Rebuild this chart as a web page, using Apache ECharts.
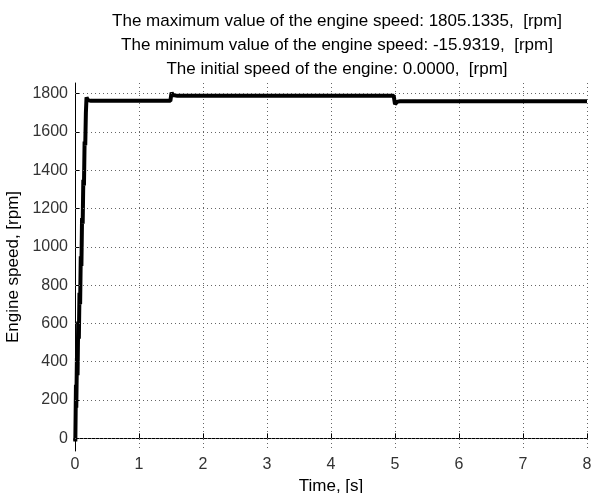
<!DOCTYPE html>
<html>
<head>
<meta charset="utf-8">
<script src="https://cdn.jsdelivr.net/npm/echarts@6/dist/echarts.min.js"></script>
<style>
html,body{margin:0;padding:0;background:#fff}
#main{width:593px;height:493px}
</style>
</head>
<body>
<div id="main"></div>
<script>
// engine speed vs time
var timeS = [0, 0.005, 0.01, 0.015, 0.02, 0.03, 0.04, 0.05, 0.06, 0.07, 0.08, 0.09, 0.1, 0.11, 0.12, 0.13, 0.14, 0.15, 0.16, 0.17, 0.18, 0.2, 0.25, 1.49, 1.5, 1.51, 1.53, 1.56, 1.6, 4.98, 4.99, 5.0, 5.02, 5.04, 5.08, 8];
var speed = [0, -15.9, 130, 280, 160, 420, 330, 610, 520, 760, 700, 950, 900, 1150, 1120, 1350, 1320, 1550, 1530, 1700, 1780, 1766, 1762, 1762, 1785, 1805, 1792, 1788, 1788, 1788, 1788, 1745, 1752, 1758, 1760, 1760];
var xTicks = [0, 1, 2, 3, 4, 5, 6, 7, 8];
var yTicks = [0, 200, 400, 600, 800, 1000, 1200, 1400, 1600, 1800];
var titleLines = [
    'The maximum value of the engine speed: 1805.1335,  [rpm]',
    'The minimum value of the engine speed: -15.9319,  [rpm]',
    'The initial speed of the engine: 0.0000,  [rpm]'
];

var points = timeS.map(function (t, i) { return [t, speed[i]]; });
var font = 'Liberation Sans, Arial, sans-serif';

var chart = echarts.init(document.getElementById('main'));
chart.setOption({
    animation: false,
    title: titleLines.map(function (s, i) {
        return {
            text: s,
            left: 332,
            top: 8 + i * 24,
            textAlign: 'center',
            textStyle: { fontFamily: font, fontSize: 17, fontWeight: 'normal', color: '#000' }
        };
    }),
    grid: { left: 75, right: 6, top: 83, bottom: 42, outerBoundsMode: 'none' },
    xAxis: {
        type: 'value',
        min: 0, max: 8, interval: 1,
        name: 'Time, [s]',
        nameLocation: 'middle',
        nameGap: 22,
        nameTextStyle: { fontFamily: font, fontSize: 17, color: '#000' },
        axisLine: { lineStyle: { color: '#000', width: 1 } },
        axisTick: { inside: true, length: 5, lineStyle: { color: '#000' } },
        axisLabel: { fontFamily: font, fontSize: 16, color: '#333', margin: 6,
            formatter: function (v) { return xTicks.indexOf(v) >= 0 ? String(v) : ''; } },
        splitLine: { show: true, lineStyle: { color: '#666', type: [1, 3], width: 1 } }
    },
    yAxis: {
        type: 'value',
        min: -65.9319, max: 1855.1335, interval: 200,
        name: 'Engine speed, [rpm]',
        nameLocation: 'middle',
        nameGap: 44,
        nameTextStyle: { fontFamily: font, fontSize: 17, color: '#000' },
        axisLine: { show: true, lineStyle: { color: '#000', width: 1 } },
        axisTick: { show: true, inside: true, length: 5, lineStyle: { color: '#000' },
            customValues: yTicks },
        axisLabel: { fontFamily: font, fontSize: 16, color: '#333', margin: 7, customValues: yTicks,
            formatter: function (v) { return String(Math.round(v)); } },
        splitLine: { show: false }
    },
    series: [{
        type: 'line',
        data: points,
        showSymbol: false,
        lineStyle: { color: '#000', width: 4 },
        markLine: {
            silent: true, symbol: 'none', label: { show: false },
            lineStyle: { color: '#666', type: [1, 3], width: 1 },
            data: yTicks.map(function (v) { return { yAxis: v }; })
        }
    }]
});
</script>
</body>
</html>
